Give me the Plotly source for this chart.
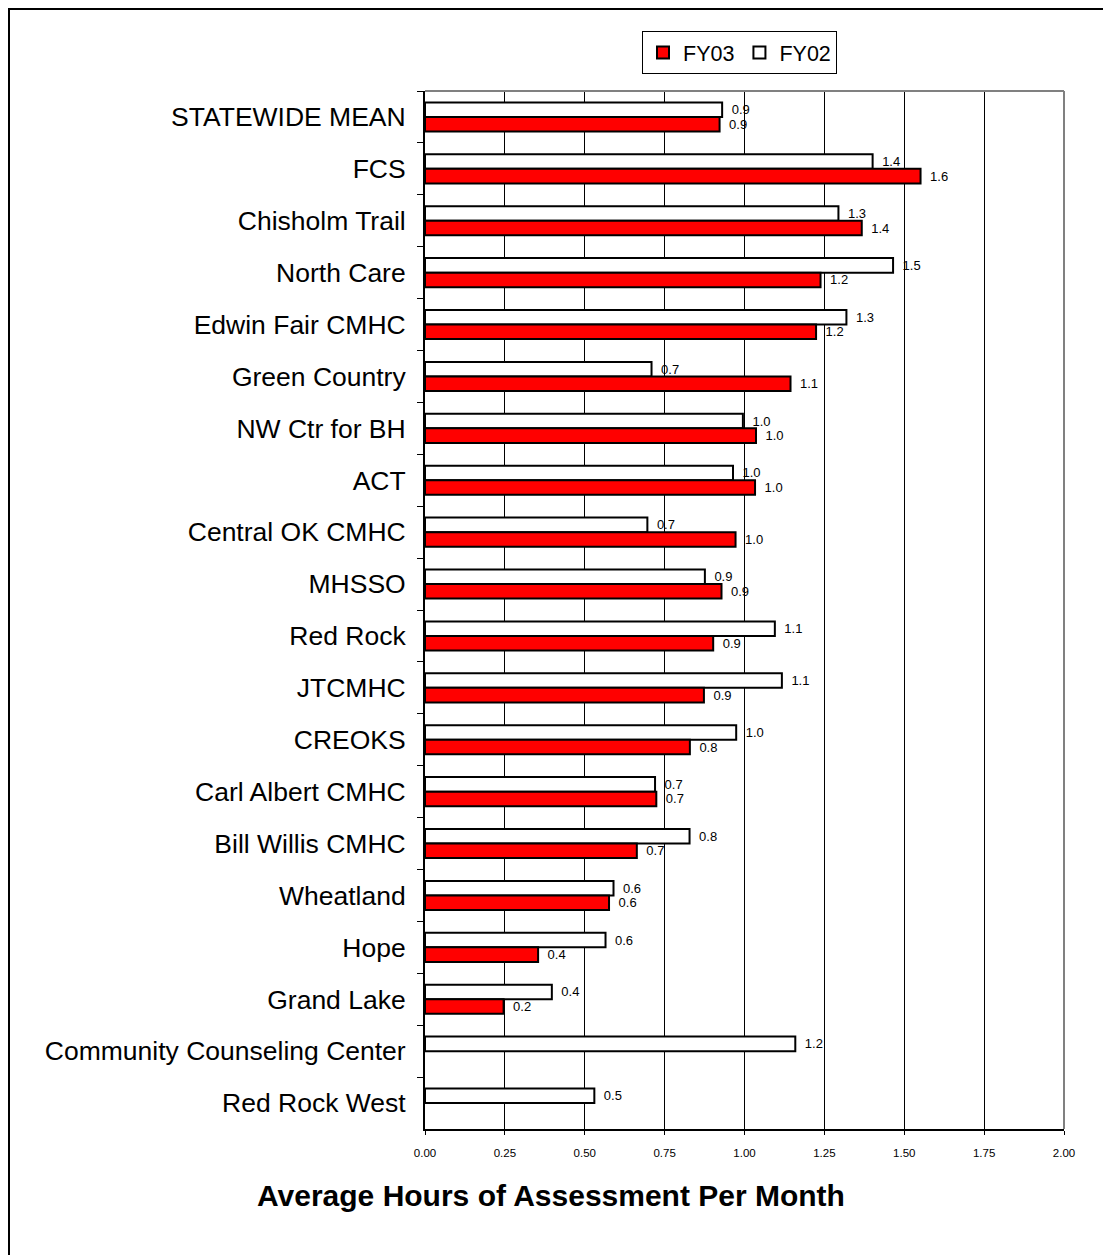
import plotly.graph_objects as go

categories = ["STATEWIDE MEAN", "FCS", "Chisholm Trail", "North Care", "Edwin Fair CMHC",
              "Green Country", "NW Ctr for BH", "ACT", "Central OK CMHC", "MHSSO",
              "Red Rock", "JTCMHC", "CREOKS", "Carl Albert CMHC", "Bill Willis CMHC",
              "Wheatland", "Hope", "Grand Lake", "Community Counseling Center", "Red Rock West"]

fy03 = [0.922, 1.551, 1.367, 1.238, 1.224, 1.144, 1.036, 1.033, 0.972, 0.928,
        0.902, 0.873, 0.829, 0.724, 0.663, 0.576, 0.354, 0.246, None, None]
fy02 = [0.930, 1.401, 1.294, 1.465, 1.319, 0.709, 0.995, 0.964, 0.696, 0.876,
        1.095, 1.117, 0.974, 0.720, 0.828, 0.590, 0.565, 0.397, 1.159, 0.530]

x_ticks = [0, 0.25, 0.5, 0.75, 1.0, 1.25, 1.5, 1.75, 2.0]
x_tick_labels = ["0.00", "0.25", "0.50", "0.75", "1.00", "1.25", "1.50", "1.75", "2.00"]

FONT = "Liberation Sans, Arial, sans-serif"

fig = go.Figure()
fig.add_trace(go.Bar(
    name="FY02", y=categories, x=fy02, orientation="h",
    marker=dict(color="#FFFFFF", line=dict(color="#000000", width=2)),
    texttemplate="\u2002%{x:.1f}", textposition="outside", constraintext="none",
    textfont=dict(size=13, color="#000000", family=FONT), cliponaxis=False,
))
fig.add_trace(go.Bar(
    name="FY03", y=categories, x=fy03, orientation="h",
    marker=dict(color="#FF0000", line=dict(color="#000000", width=2)),
    texttemplate="\u2002%{x:.1f}", textposition="outside", constraintext="none",
    textfont=dict(size=13, color="#000000", family=FONT), cliponaxis=False,
))

OFF = 8  # page body margin offset
W, H = 1111 - OFF, 1255 - OFF
L, R, T, B = 425 - OFF, 1064 - OFF, 91 - OFF, 1129 - OFF

def px(xp):
    return (xp - OFF - L) / (R - L)

def py(yp):
    return (B - (yp - OFF)) / (B - T)

fig.update_layout(
    width=W, height=H,
    margin=dict(l=L, r=W - R, t=T, b=H - B),
    paper_bgcolor="#FFFFFF", plot_bgcolor="#FFFFFF",
    font=dict(family=FONT, color="#000000"),
    barmode="group", bargap=0.44, bargroupgap=0.0,
    showlegend=True,
    legend=dict(
        orientation="h", traceorder="reversed",
        x=px(642), y=py(31), xanchor="left", yanchor="top",
        bordercolor="#000000", borderwidth=1, bgcolor="#FFFFFF",
        font=dict(size=21.5, family=FONT), itemwidth=30,
    ),
    xaxis=dict(
        range=[0, 2.0], tickvals=x_ticks, ticktext=x_tick_labels,
        showgrid=True, gridcolor="#000000", gridwidth=1,
        showline=True, linecolor="#000000", linewidth=2,
        ticks="outside", ticklen=4, tickcolor="#000000",
        tickfont=dict(size=11.5, family=FONT), zeroline=False,
        ticklabelstandoff=8,
    ),
    yaxis=dict(
        autorange="reversed", type="category",
        showline=True, linecolor="#000000", linewidth=2,
        ticks="outside", ticklen=6, tickcolor="#000000", tickson="boundaries",
        tickfont=dict(size=26.5, family=FONT), showgrid=False,
        ticklabelstandoff=12,
    ),
    shapes=[
        dict(type="line", xref="paper", yref="paper", x0=0, x1=1, y0=1, y1=1,
             line=dict(color="#808080", width=2), layer="above"),
        dict(type="line", xref="paper", yref="paper", x0=1, x1=1, y0=0, y1=1,
             line=dict(color="#808080", width=2), layer="above"),
        dict(type="rect", xref="paper", yref="paper",
             x0=px(8.5), x1=px(1111 + 10), y0=py(8.5), y1=py(1255 + 10),
             line=dict(color="#000000", width=3), layer="above"),
    ],
    annotations=[
        dict(text="<b>Average Hours of Assessment Per Month</b>", xref="paper", yref="paper",
             x=px(551), y=py(1195), xanchor="center", yanchor="middle", showarrow=False,
             font=dict(size=30, family=FONT, color="#000000")),
    ],
)

fig.write_html("out.html")
